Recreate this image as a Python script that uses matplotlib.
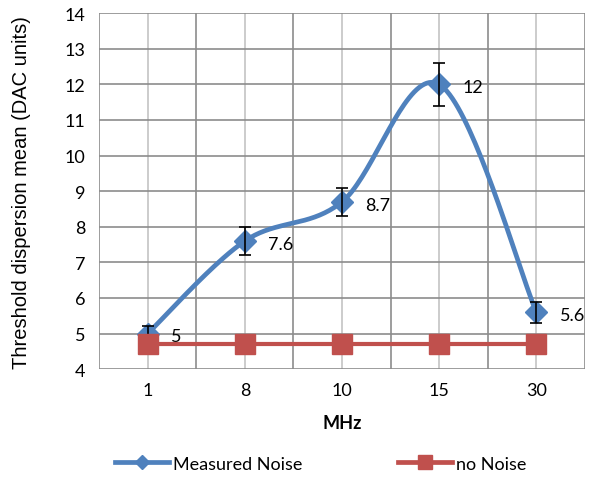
import numpy as np
import matplotlib.pyplot as plt
from matplotlib.lines import Line2D

cats = ['1', '8', '10', '15', '30']
measured = [5, 7.6, 8.7, 12, 5.6]
err = [0.2, 0.4, 0.4, 0.6, 0.3]
no_noise = [4.7, 4.7, 4.7, 4.7, 4.7]

blue = '#4F81BD'
red = '#C0504D'


def smooth(x, y, n=40):
    # bezier through points, excel style smoothing
    x = np.asarray(x, float)
    y = np.asarray(y, float)
    px = np.concatenate([[x[0]], x, [x[-1]]])
    py = np.concatenate([[y[0]], y, [y[-1]]])
    xs, ys = [], []
    for i in range(len(x) - 1):
        p0 = np.array([px[i + 1], py[i + 1]])
        p3 = np.array([px[i + 2], py[i + 2]])
        c1 = p0 + (np.array([px[i + 2], py[i + 2]]) - np.array([px[i], py[i]])) / 6
        c2 = p3 - (np.array([px[i + 3], py[i + 3]]) - np.array([px[i + 1], py[i + 1]])) / 6
        t = np.linspace(0, 1, n)[:, None]
        b = (1 - t) ** 3 * p0 + 3 * (1 - t) ** 2 * t * c1 + 3 * (1 - t) * t ** 2 * c2 + t ** 3 * p3
        xs.extend(b[:, 0])
        ys.extend(b[:, 1])
    return xs, ys


fig = plt.figure(figsize=(6.08, 4.89), dpi=100)
ax = fig.add_axes([0.163, 0.243, 0.799, 0.728])

xi = np.arange(len(cats))
ax.set_xlim(-0.5, len(cats) - 0.5)
ax.set_ylim(4, 14)
ax.set_yticks(range(4, 15))

# grid
for v in np.arange(-0.5, len(cats), 1.0):
    ax.axvline(v, color='#8c8c8c', lw=1.2, zorder=0)
for v in xi:
    ax.axvline(v, color='#c4c4c4', lw=1.2, zorder=0)
for v in range(4, 15):
    ax.axhline(v, color='#8c8c8c', lw=1.2, zorder=0)

for s in ax.spines.values():
    s.set_visible(False)
ax.tick_params(length=0, labelsize=13, pad=10)
ax.tick_params(axis='x', pad=9)
ax.set_xticks(xi)
ax.set_xticklabels(cats)
for lab in ax.get_xticklabels() + ax.get_yticklabels():
    lab.set_family('Lato')

sx, sy = smooth(xi, measured)
ax.plot(sx, sy, color=blue, lw=3.4, zorder=4)
ax.plot(xi, measured, ls='none', marker='D', ms=11, color=blue, zorder=5)
ax.errorbar(xi, measured, yerr=err, fmt='none', ecolor='black', elinewidth=1.2, capsize=4.5, capthick=1.2, zorder=6)
ax.plot(xi, no_noise, color=red, lw=3, marker='s', ms=14, zorder=7)

for x, y in zip(xi, measured):
    ax.annotate(f'{y:g}', (x, y), xytext=(17, -2), textcoords='offset points',
                va='center', ha='left', fontsize=13, family='Lato')

ax.set_xlabel('MHz', fontsize=13, fontweight='bold', family='Lato', labelpad=12)
ax.set_ylabel('Threshold dispersion mean (DAC units)', fontsize=14.5, family='Liberation Sans', labelpad=24)

h1 = Line2D([], [], color=blue, lw=3.4, marker='D', ms=7)
h2 = Line2D([], [], color=red, lw=3.4, marker='s', ms=10)
fig.legend([h1, h2], ['Measured Noise', 'no Noise'], loc='lower center', ncol=2,
           bbox_to_anchor=(0.527, 0.0), frameon=False, handlelength=3.0, handletextpad=0.2,
           columnspacing=5.3, prop={'family': 'Lato', 'size': 13})

fig.savefig('out.png', dpi=100)
